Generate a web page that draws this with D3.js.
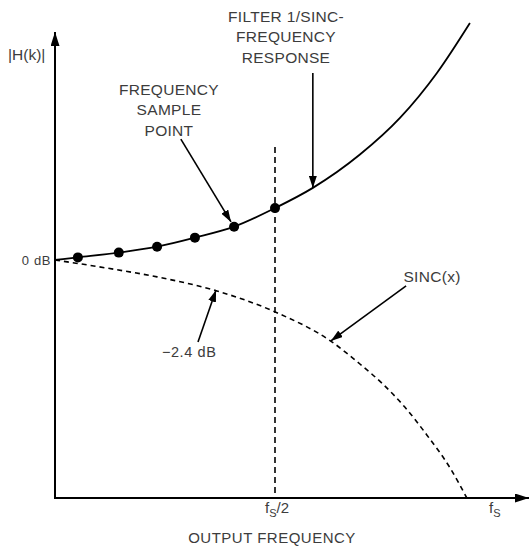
<!DOCTYPE html>
<html>
<head>
<meta charset="utf-8">
<script src="https://cdn.jsdelivr.net/npm/d3@7"></script>
<style>
  html, body { margin: 0; padding: 0; background: #fff; }
  svg { display: block; }
  text { font-family: "Liberation Sans", Arial, sans-serif; fill: #3c3c3c; }
</style>
</head>
<body>
<svg id="chart" width="530" height="548"></svg>
<script>
// ---- data (frequency as fraction of fs, level relative to 0 dB, schematic units) ----
const sincFreq   = [0, 0.118, 0.232, 0.368, 0.5, 0.630, 0.693, 0.745, 0.795, 0.845, 0.898, 0.936];
const sincLevel  = [0, -0.034, -0.071, -0.130, -0.218, -0.345, -0.437, -0.521, -0.618, -0.735, -0.874, -1.0];
const invFreq    = [0, 0.052, 0.145, 0.232, 0.318, 0.407, 0.5, 0.586, 0.693, 0.784, 0.868, 0.943];
const invLevel   = [0, 0.011, 0.031, 0.056, 0.094, 0.140, 0.218, 0.303, 0.443, 0.597, 0.786, 0.996];
const sampleFreq  = [0.052, 0.145, 0.232, 0.318, 0.407, 0.5];
const sampleLevel = [0.011, 0.031, 0.056, 0.094, 0.140, 0.218];
const nyquist = 0.5;
const xTickValues = [0.5, 1];
const xTickLabels = [["f", "S", "/2"], ["f", "S", ""]];
const yTickLabel = "0 dB";
const annotations = [
  { lines: ["FILTER 1/SINC-", "FREQUENCY", "RESPONSE"], x: 0.525, y: 1.0, from: [0.586, 0.786], to: [0.586, 0.303] },
  { lines: ["FREQUENCY", "SAMPLE", "POINT"], x: 0.259, y: 0.693, from: [0.286, 0.508], to: [0.400, 0.160] },
  { lines: ["SINC(x)"], x: 0.857, y: -0.092, from: [0.798, -0.109], to: [0.627, -0.340] },
  { lines: ["\u22122.4 dB"], x: 0.305, y: -0.408, from: [0.325, -0.345], to: [0.366, -0.126] }
];

// ---- layout ----
const svg = d3.select("#chart");
const x = d3.scaleLinear().domain([0, 1]).range([55, 495]);
const y = d3.scaleLinear().domain([-1, 1]).range([498, 22]);
const x0 = x(0), yBase = 498;

const defs = svg.append("defs");
defs.append("marker").attr("id", "ah").attr("viewBox", "0 0 12 8")
  .attr("refX", 12).attr("refY", 4).attr("markerWidth", 12).attr("markerHeight", 8)
  .attr("markerUnits", "userSpaceOnUse").attr("orient", "auto")
  .append("path").attr("d", "M0,0 L12,4 L0,8 Z").attr("fill", "#000");
defs.append("marker").attr("id", "axh").attr("viewBox", "0 0 14 9")
  .attr("refX", 14).attr("refY", 4.5).attr("markerWidth", 14).attr("markerHeight", 9)
  .attr("markerUnits", "userSpaceOnUse").attr("orient", "auto")
  .append("path").attr("d", "M0,0 L14,4.5 L0,9 Z").attr("fill", "#000");

// axes
svg.append("line").attr("x1", x0).attr("y1", yBase).attr("x2", x0).attr("y2", 32)
  .attr("stroke", "#000").attr("stroke-width", 2).attr("marker-end", "url(#axh)");
svg.append("line").attr("x1", x0 - 1).attr("y1", yBase).attr("x2", 529).attr("y2", yBase)
  .attr("stroke", "#000").attr("stroke-width", 2).attr("marker-end", "url(#axh)");

// fs/2 dashed line
svg.append("line").attr("x1", x(nyquist)).attr("x2", x(nyquist))
  .attr("y1", 147).attr("y2", yBase)
  .attr("stroke", "#000").attr("stroke-width", 1.6).attr("stroke-dasharray", "6,4");

// curves
const line = d3.line().x(d => x(d[0])).y(d => y(d[1])).curve(d3.curveMonotoneX);
svg.append("path").datum(sincFreq.map((f, i) => [f, sincLevel[i]]))
  .attr("d", line).attr("fill", "none").attr("stroke", "#000")
  .attr("stroke-width", 1.6).attr("stroke-dasharray", "5,4");
svg.append("path").datum(invFreq.map((f, i) => [f, invLevel[i]]))
  .attr("d", line).attr("fill", "none").attr("stroke", "#000").attr("stroke-width", 1.8);

// sample points
svg.selectAll("circle.pt").data(sampleFreq.map((f, i) => [f, sampleLevel[i]]))
  .enter().append("circle").attr("class", "pt")
  .attr("cx", d => x(d[0])).attr("cy", d => y(d[1])).attr("r", 5).attr("fill", "#000");

// y label and 0 dB
svg.append("text").attr("x", 8).attr("y", 60).attr("font-size", 15.5).text("|H(k)|");
svg.append("text").attr("x", x0 - 4).attr("y", y(0) + 4.5).attr("text-anchor", "end")
  .attr("font-size", 13).attr("letter-spacing", 0.6).text(yTickLabel);

// x tick labels
xTickValues.forEach((v, i) => {
  const t = svg.append("text").attr("x", x(v) - (i === 0 ? 10 : 6)).attr("y", 513).attr("font-size", 15);
  const parts = xTickLabels[i];
  t.append("tspan").text(parts[0]);
  t.append("tspan").attr("font-size", 11).attr("dy", 4).text(parts[1]);
  if (parts[2]) t.append("tspan").attr("dy", -4).text(parts[2]);
});
svg.append("text").attr("x", 272).attr("y", 543).attr("text-anchor", "middle")
  .attr("font-size", 15).attr("letter-spacing", 0.5).text("OUTPUT FREQUENCY");

// annotations
annotations.forEach(a => {
  const t = svg.append("text").attr("text-anchor", "middle")
    .attr("font-size", a.lines.length > 1 || a.lines[0].startsWith("SINC") ? 15.5 : 14.5)
    .attr("letter-spacing", a.lines[0].startsWith("\u2212") ? 0.6 : 0.3);
  a.lines.forEach((s, i) => {
    t.append("tspan").attr("x", x(a.x)).attr("y", y(a.y) + i * 20.3).text(s);
  });
  svg.append("line").attr("x1", x(a.from[0])).attr("y1", y(a.from[1]))
    .attr("x2", x(a.to[0])).attr("y2", y(a.to[1]))
    .attr("stroke", "#000").attr("stroke-width", 1.6).attr("marker-end", "url(#ah)");
});
</script>
</body>
</html>
